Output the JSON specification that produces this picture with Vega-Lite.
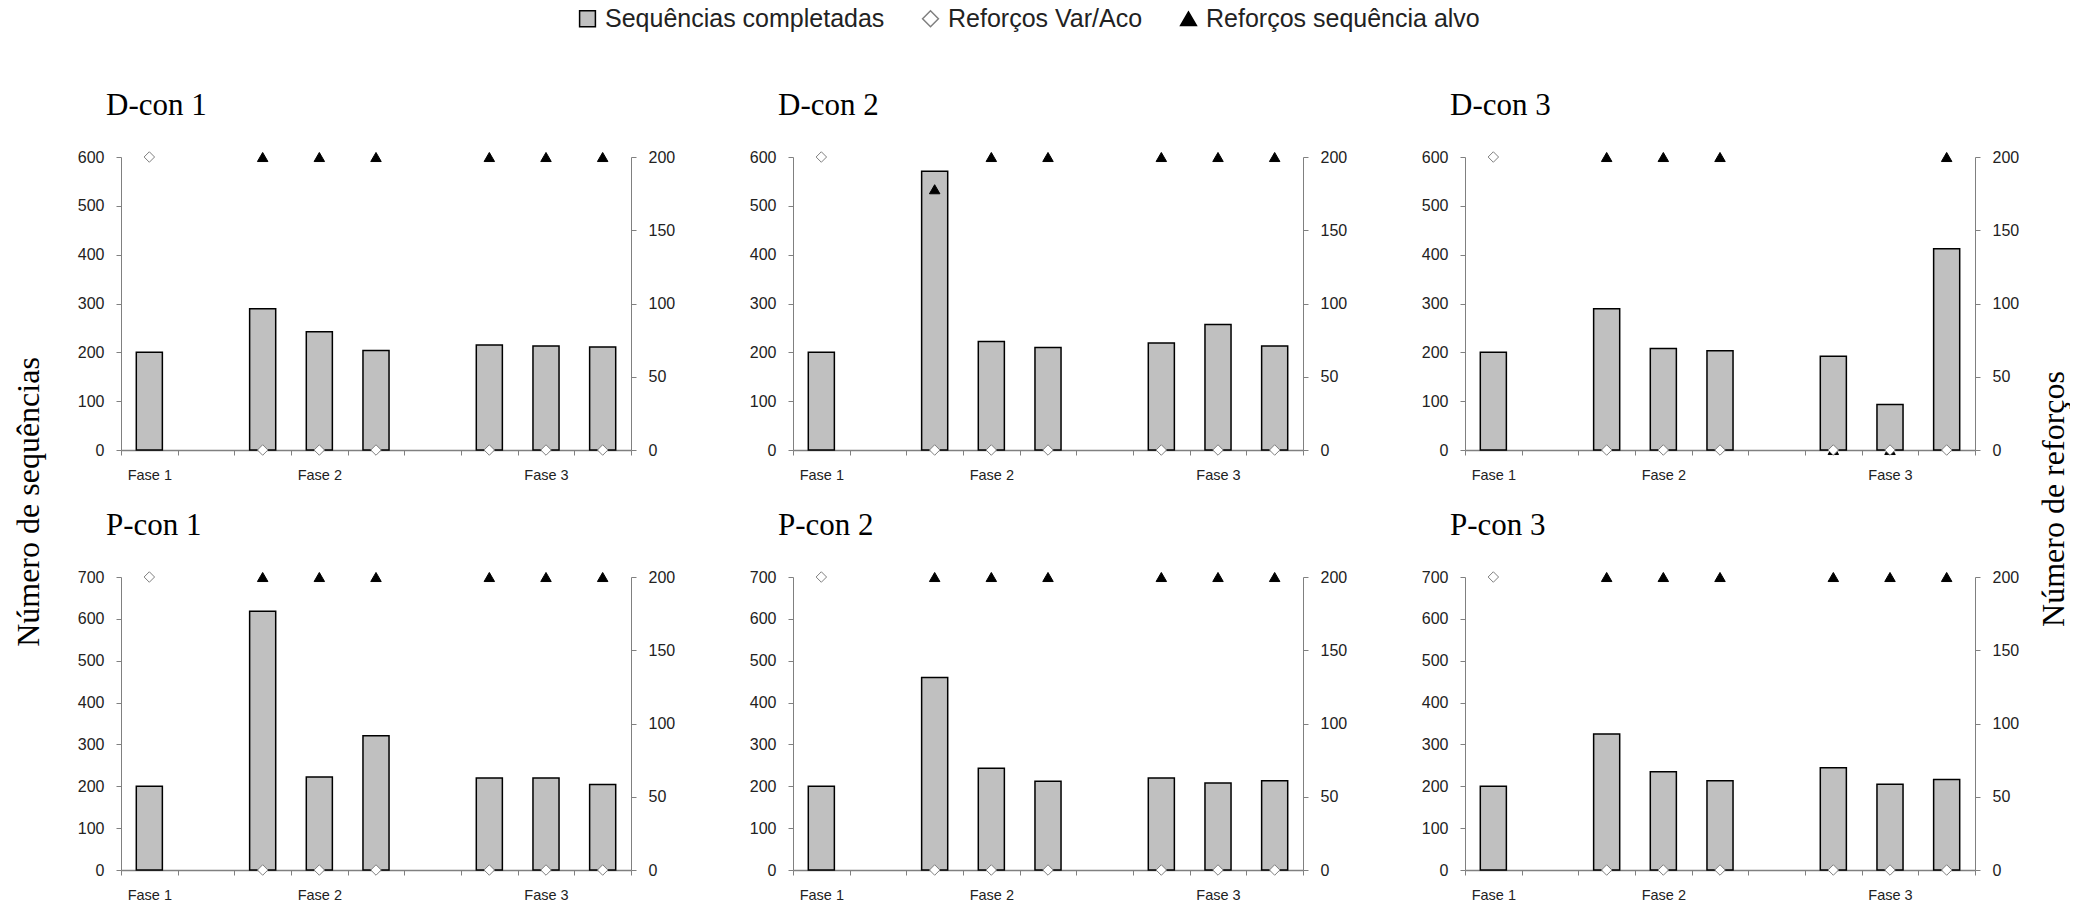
{
  "$schema": "https://vega.github.io/schema/vega-lite/v6.json",
  "padding": {"top": 6, "left": 0, "right": 0, "bottom": 0},
  "background": "white",
  "config": {
    "view": {"stroke": null},
    "title": {"anchor": "start", "frame": "group", "font": "Liberation Serif", "fontSize": 31, "fontWeight": "normal", "color": "#000000", "dx": -15, "offset": 27, "baseline": "alphabetic"},
    "axis": {"labelFont": "Liberation Sans", "labelFontSize": 16, "labelColor": "#222222", "domainColor": "#808080", "tickColor": "#808080", "grid": false}
  },
  "datasets": {
    "d": [
      {"panel": "D-con 1", "series": "Sequências completadas", "slot": 1, "value": 200},
      {"panel": "D-con 1", "series": "Sequências completadas", "slot": 3, "value": 289},
      {"panel": "D-con 1", "series": "Sequências completadas", "slot": 4, "value": 242},
      {"panel": "D-con 1", "series": "Sequências completadas", "slot": 5, "value": 204},
      {"panel": "D-con 1", "series": "Sequências completadas", "slot": 7, "value": 215},
      {"panel": "D-con 1", "series": "Sequências completadas", "slot": 8, "value": 213},
      {"panel": "D-con 1", "series": "Sequências completadas", "slot": 9, "value": 211},
      {"panel": "D-con 1", "series": "Reforços sequência alvo", "slot": 3, "value": 200},
      {"panel": "D-con 1", "series": "Reforços sequência alvo", "slot": 4, "value": 200},
      {"panel": "D-con 1", "series": "Reforços sequência alvo", "slot": 5, "value": 200},
      {"panel": "D-con 1", "series": "Reforços sequência alvo", "slot": 7, "value": 200},
      {"panel": "D-con 1", "series": "Reforços sequência alvo", "slot": 8, "value": 200},
      {"panel": "D-con 1", "series": "Reforços sequência alvo", "slot": 9, "value": 200},
      {"panel": "D-con 1", "series": "Reforços Var/Aco", "slot": 1, "value": 200},
      {"panel": "D-con 1", "series": "Reforços Var/Aco", "slot": 3, "value": 0},
      {"panel": "D-con 1", "series": "Reforços Var/Aco", "slot": 4, "value": 0},
      {"panel": "D-con 1", "series": "Reforços Var/Aco", "slot": 5, "value": 0},
      {"panel": "D-con 1", "series": "Reforços Var/Aco", "slot": 7, "value": 0},
      {"panel": "D-con 1", "series": "Reforços Var/Aco", "slot": 8, "value": 0},
      {"panel": "D-con 1", "series": "Reforços Var/Aco", "slot": 9, "value": 0},

      {"panel": "D-con 2", "series": "Sequências completadas", "slot": 1, "value": 200},
      {"panel": "D-con 2", "series": "Sequências completadas", "slot": 3, "value": 571},
      {"panel": "D-con 2", "series": "Sequências completadas", "slot": 4, "value": 222},
      {"panel": "D-con 2", "series": "Sequências completadas", "slot": 5, "value": 210},
      {"panel": "D-con 2", "series": "Sequências completadas", "slot": 7, "value": 219},
      {"panel": "D-con 2", "series": "Sequências completadas", "slot": 8, "value": 257},
      {"panel": "D-con 2", "series": "Sequências completadas", "slot": 9, "value": 213},
      {"panel": "D-con 2", "series": "Reforços sequência alvo", "slot": 3, "value": 178},
      {"panel": "D-con 2", "series": "Reforços sequência alvo", "slot": 4, "value": 200},
      {"panel": "D-con 2", "series": "Reforços sequência alvo", "slot": 5, "value": 200},
      {"panel": "D-con 2", "series": "Reforços sequência alvo", "slot": 7, "value": 200},
      {"panel": "D-con 2", "series": "Reforços sequência alvo", "slot": 8, "value": 200},
      {"panel": "D-con 2", "series": "Reforços sequência alvo", "slot": 9, "value": 200},
      {"panel": "D-con 2", "series": "Reforços Var/Aco", "slot": 1, "value": 200},
      {"panel": "D-con 2", "series": "Reforços Var/Aco", "slot": 3, "value": 0},
      {"panel": "D-con 2", "series": "Reforços Var/Aco", "slot": 4, "value": 0},
      {"panel": "D-con 2", "series": "Reforços Var/Aco", "slot": 5, "value": 0},
      {"panel": "D-con 2", "series": "Reforços Var/Aco", "slot": 7, "value": 0},
      {"panel": "D-con 2", "series": "Reforços Var/Aco", "slot": 8, "value": 0},
      {"panel": "D-con 2", "series": "Reforços Var/Aco", "slot": 9, "value": 0},

      {"panel": "D-con 3", "series": "Sequências completadas", "slot": 1, "value": 200},
      {"panel": "D-con 3", "series": "Sequências completadas", "slot": 3, "value": 289},
      {"panel": "D-con 3", "series": "Sequências completadas", "slot": 4, "value": 208},
      {"panel": "D-con 3", "series": "Sequências completadas", "slot": 5, "value": 203},
      {"panel": "D-con 3", "series": "Sequências completadas", "slot": 7, "value": 192},
      {"panel": "D-con 3", "series": "Sequências completadas", "slot": 8, "value": 93},
      {"panel": "D-con 3", "series": "Sequências completadas", "slot": 9, "value": 412},
      {"panel": "D-con 3", "series": "Reforços sequência alvo", "slot": 3, "value": 200},
      {"panel": "D-con 3", "series": "Reforços sequência alvo", "slot": 4, "value": 200},
      {"panel": "D-con 3", "series": "Reforços sequência alvo", "slot": 5, "value": 200},
      {"panel": "D-con 3", "series": "Reforços sequência alvo", "slot": 7, "value": 0},
      {"panel": "D-con 3", "series": "Reforços sequência alvo", "slot": 8, "value": 0},
      {"panel": "D-con 3", "series": "Reforços sequência alvo", "slot": 9, "value": 200},
      {"panel": "D-con 3", "series": "Reforços Var/Aco", "slot": 1, "value": 200},
      {"panel": "D-con 3", "series": "Reforços Var/Aco", "slot": 3, "value": 0},
      {"panel": "D-con 3", "series": "Reforços Var/Aco", "slot": 4, "value": 0},
      {"panel": "D-con 3", "series": "Reforços Var/Aco", "slot": 5, "value": 0},
      {"panel": "D-con 3", "series": "Reforços Var/Aco", "slot": 7, "value": 0},
      {"panel": "D-con 3", "series": "Reforços Var/Aco", "slot": 8, "value": 0},
      {"panel": "D-con 3", "series": "Reforços Var/Aco", "slot": 9, "value": 0},

      {"panel": "P-con 1", "series": "Sequências completadas", "slot": 1, "value": 200},
      {"panel": "P-con 1", "series": "Sequências completadas", "slot": 3, "value": 618},
      {"panel": "P-con 1", "series": "Sequências completadas", "slot": 4, "value": 222},
      {"panel": "P-con 1", "series": "Sequências completadas", "slot": 5, "value": 321},
      {"panel": "P-con 1", "series": "Sequências completadas", "slot": 7, "value": 220},
      {"panel": "P-con 1", "series": "Sequências completadas", "slot": 8, "value": 220},
      {"panel": "P-con 1", "series": "Sequências completadas", "slot": 9, "value": 204},
      {"panel": "P-con 1", "series": "Reforços sequência alvo", "slot": 3, "value": 200},
      {"panel": "P-con 1", "series": "Reforços sequência alvo", "slot": 4, "value": 200},
      {"panel": "P-con 1", "series": "Reforços sequência alvo", "slot": 5, "value": 200},
      {"panel": "P-con 1", "series": "Reforços sequência alvo", "slot": 7, "value": 200},
      {"panel": "P-con 1", "series": "Reforços sequência alvo", "slot": 8, "value": 200},
      {"panel": "P-con 1", "series": "Reforços sequência alvo", "slot": 9, "value": 200},
      {"panel": "P-con 1", "series": "Reforços Var/Aco", "slot": 1, "value": 200},
      {"panel": "P-con 1", "series": "Reforços Var/Aco", "slot": 3, "value": 0},
      {"panel": "P-con 1", "series": "Reforços Var/Aco", "slot": 4, "value": 0},
      {"panel": "P-con 1", "series": "Reforços Var/Aco", "slot": 5, "value": 0},
      {"panel": "P-con 1", "series": "Reforços Var/Aco", "slot": 7, "value": 0},
      {"panel": "P-con 1", "series": "Reforços Var/Aco", "slot": 8, "value": 0},
      {"panel": "P-con 1", "series": "Reforços Var/Aco", "slot": 9, "value": 0},

      {"panel": "P-con 2", "series": "Sequências completadas", "slot": 1, "value": 200},
      {"panel": "P-con 2", "series": "Sequências completadas", "slot": 3, "value": 460},
      {"panel": "P-con 2", "series": "Sequências completadas", "slot": 4, "value": 243},
      {"panel": "P-con 2", "series": "Sequências completadas", "slot": 5, "value": 212},
      {"panel": "P-con 2", "series": "Sequências completadas", "slot": 7, "value": 220},
      {"panel": "P-con 2", "series": "Sequências completadas", "slot": 8, "value": 208},
      {"panel": "P-con 2", "series": "Sequências completadas", "slot": 9, "value": 213},
      {"panel": "P-con 2", "series": "Reforços sequência alvo", "slot": 3, "value": 200},
      {"panel": "P-con 2", "series": "Reforços sequência alvo", "slot": 4, "value": 200},
      {"panel": "P-con 2", "series": "Reforços sequência alvo", "slot": 5, "value": 200},
      {"panel": "P-con 2", "series": "Reforços sequência alvo", "slot": 7, "value": 200},
      {"panel": "P-con 2", "series": "Reforços sequência alvo", "slot": 8, "value": 200},
      {"panel": "P-con 2", "series": "Reforços sequência alvo", "slot": 9, "value": 200},
      {"panel": "P-con 2", "series": "Reforços Var/Aco", "slot": 1, "value": 200},
      {"panel": "P-con 2", "series": "Reforços Var/Aco", "slot": 3, "value": 0},
      {"panel": "P-con 2", "series": "Reforços Var/Aco", "slot": 4, "value": 0},
      {"panel": "P-con 2", "series": "Reforços Var/Aco", "slot": 5, "value": 0},
      {"panel": "P-con 2", "series": "Reforços Var/Aco", "slot": 7, "value": 0},
      {"panel": "P-con 2", "series": "Reforços Var/Aco", "slot": 8, "value": 0},
      {"panel": "P-con 2", "series": "Reforços Var/Aco", "slot": 9, "value": 0},

      {"panel": "P-con 3", "series": "Sequências completadas", "slot": 1, "value": 200},
      {"panel": "P-con 3", "series": "Sequências completadas", "slot": 3, "value": 325},
      {"panel": "P-con 3", "series": "Sequências completadas", "slot": 4, "value": 235},
      {"panel": "P-con 3", "series": "Sequências completadas", "slot": 5, "value": 213},
      {"panel": "P-con 3", "series": "Sequências completadas", "slot": 7, "value": 244},
      {"panel": "P-con 3", "series": "Sequências completadas", "slot": 8, "value": 205},
      {"panel": "P-con 3", "series": "Sequências completadas", "slot": 9, "value": 216},
      {"panel": "P-con 3", "series": "Reforços sequência alvo", "slot": 3, "value": 200},
      {"panel": "P-con 3", "series": "Reforços sequência alvo", "slot": 4, "value": 200},
      {"panel": "P-con 3", "series": "Reforços sequência alvo", "slot": 5, "value": 200},
      {"panel": "P-con 3", "series": "Reforços sequência alvo", "slot": 7, "value": 200},
      {"panel": "P-con 3", "series": "Reforços sequência alvo", "slot": 8, "value": 200},
      {"panel": "P-con 3", "series": "Reforços sequência alvo", "slot": 9, "value": 200},
      {"panel": "P-con 3", "series": "Reforços Var/Aco", "slot": 1, "value": 200},
      {"panel": "P-con 3", "series": "Reforços Var/Aco", "slot": 3, "value": 0},
      {"panel": "P-con 3", "series": "Reforços Var/Aco", "slot": 4, "value": 0},
      {"panel": "P-con 3", "series": "Reforços Var/Aco", "slot": 5, "value": 0},
      {"panel": "P-con 3", "series": "Reforços Var/Aco", "slot": 7, "value": 0},
      {"panel": "P-con 3", "series": "Reforços Var/Aco", "slot": 8, "value": 0},
      {"panel": "P-con 3", "series": "Reforços Var/Aco", "slot": 9, "value": 0}
    ]
  },
  "spacing": 19,
  "hconcat": [
    {
      "width": 58, "height": 682,
      "data": {"values": [{"t": "Número de sequências"}]},
      "mark": {"type": "text", "angle": 270, "font": "Liberation Serif", "fontSize": 32, "align": "center", "baseline": "middle", "color": "#000000", "dx": -4},
      "encoding": {"text": {"field": "t", "type": "nominal"}}
    },
    {
      "spacing": 28,
      "vconcat": [
        {
          "spacing": 74,
          "hconcat": [
            {
              "width": 510, "height": 293,
              "title": {"text": "D-con 1"},
              "data": {"name": "d"},
              "transform": [{"filter": "datum.panel == 'D-con 1'"}],
              "layer": [
                {
                  "transform": [{"filter": "datum.series == 'Sequências completadas'"}],
                  "mark": {"type": "bar", "width": {"band": 0.46}, "strokeWidth": 1.5},
                  "encoding": {
                    "x": {"field": "slot", "type": "ordinal", "scale": {"domain": [1,2,3,4,5,6,7,8,9], "paddingInner": 0, "paddingOuter": 0}, "axis": {"title": null, "tickBand": "extent", "labelAngle": 0, "labelFontSize": 14.5, "labelExpr": "datum.value == 1 ? 'Fase 1' : datum.value == 4 ? 'Fase 2' : datum.value == 8 ? 'Fase 3' : ''", "tickSize": 5, "labelPadding": 13, "domainWidth": 1.5}},
                    "y": {"field": "value", "type": "quantitative", "scale": {"domain": [0, 600], "nice": false}, "axis": {"title": null, "values": [0,100,200,300,400,500,600], "tickSize": 5, "labelPadding": 12}},
                    "fill": {"field": "series", "type": "nominal", "scale": {"domain": ["Sequências completadas", "Reforços Var/Aco", "Reforços sequência alvo"], "range": ["#C0C0C0", "#FFFFFF", "#000000"]}, "legend": {"title": null, "orient": "none", "legendX": 575, "legendY": -151, "direction": "horizontal", "labelFont": "Liberation Sans", "labelFontSize": 25, "labelLimit": 600, "labelColor": "#222222", "symbolSize": 250, "symbolStrokeWidth": 1.5, "columnPadding": 33, "labelOffset": 5}},
                    "stroke": {"field": "series", "type": "nominal", "scale": {"domain": ["Sequências completadas", "Reforços Var/Aco", "Reforços sequência alvo"], "range": ["#000000", "#7F7F7F", "#000000"]}, "legend": {"title": null, "orient": "none", "legendX": 575, "legendY": -151, "direction": "horizontal", "labelFont": "Liberation Sans", "labelFontSize": 25, "labelLimit": 600, "labelColor": "#222222", "symbolSize": 250, "symbolStrokeWidth": 1.5, "columnPadding": 33, "labelOffset": 5}}
                  }
                },
                {
                  "transform": [{"filter": "datum.series != 'Sequências completadas'"}],
                  "mark": {"type": "point", "filled": true, "opacity": 1, "strokeWidth": 1, "size": 110},
                  "encoding": {
                    "x": {"field": "slot", "type": "ordinal", "scale": {"domain": [1,2,3,4,5,6,7,8,9], "paddingInner": 0, "paddingOuter": 0}, "axis": {"title": null, "tickBand": "extent", "labelAngle": 0, "labelFontSize": 14.5, "labelExpr": "datum.value == 1 ? 'Fase 1' : datum.value == 4 ? 'Fase 2' : datum.value == 8 ? 'Fase 3' : ''", "tickSize": 5, "labelPadding": 13, "domainWidth": 1.5}},
                    "y": {"field": "value", "type": "quantitative", "scale": {"domain": [0, 200], "nice": false}, "axis": {"title": null, "orient": "right", "values": [0,50,100,150,200], "tickSize": 5, "labelPadding": 12}},
                    "fill": {"field": "series", "type": "nominal", "scale": {"domain": ["Sequências completadas", "Reforços Var/Aco", "Reforços sequência alvo"], "range": ["#C0C0C0", "#FFFFFF", "#000000"]}},
                    "stroke": {"field": "series", "type": "nominal", "scale": {"domain": ["Sequências completadas", "Reforços Var/Aco", "Reforços sequência alvo"], "range": ["#000000", "#7F7F7F", "#000000"]}},
                    "shape": {"field": "series", "type": "nominal", "scale": {"domain": ["Sequências completadas", "Reforços Var/Aco", "Reforços sequência alvo"], "range": ["square", "diamond", "triangle-up"]}, "legend": {"title": null, "orient": "none", "legendX": 575, "legendY": -151, "direction": "horizontal", "labelFont": "Liberation Sans", "labelFontSize": 25, "labelLimit": 600, "labelColor": "#222222", "symbolSize": 250, "symbolStrokeWidth": 1.5, "columnPadding": 33, "labelOffset": 5}}
                  }
                }
              ],
              "resolve": {"scale": {"y": "independent"}}
            },
            {
              "width": 510, "height": 293,
              "title": {"text": "D-con 2"},
              "data": {"name": "d"},
              "transform": [{"filter": "datum.panel == 'D-con 2'"}],
              "layer": [
                {
                  "transform": [{"filter": "datum.series == 'Sequências completadas'"}],
                  "mark": {"type": "bar", "width": {"band": 0.46}, "strokeWidth": 1.5},
                  "encoding": {
                    "x": {"field": "slot", "type": "ordinal", "scale": {"domain": [1,2,3,4,5,6,7,8,9], "paddingInner": 0, "paddingOuter": 0}, "axis": {"title": null, "tickBand": "extent", "labelAngle": 0, "labelFontSize": 14.5, "labelExpr": "datum.value == 1 ? 'Fase 1' : datum.value == 4 ? 'Fase 2' : datum.value == 8 ? 'Fase 3' : ''", "tickSize": 5, "labelPadding": 13, "domainWidth": 1.5}},
                    "y": {"field": "value", "type": "quantitative", "scale": {"domain": [0, 600], "nice": false}, "axis": {"title": null, "values": [0,100,200,300,400,500,600], "tickSize": 5, "labelPadding": 12}},
                    "fill": {"field": "series", "type": "nominal", "scale": {"domain": ["Sequências completadas", "Reforços Var/Aco", "Reforços sequência alvo"], "range": ["#C0C0C0", "#FFFFFF", "#000000"]}},
                    "stroke": {"field": "series", "type": "nominal", "scale": {"domain": ["Sequências completadas", "Reforços Var/Aco", "Reforços sequência alvo"], "range": ["#000000", "#7F7F7F", "#000000"]}}
                  }
                },
                {
                  "transform": [{"filter": "datum.series != 'Sequências completadas'"}],
                  "mark": {"type": "point", "filled": true, "opacity": 1, "strokeWidth": 1, "size": 110},
                  "encoding": {
                    "x": {"field": "slot", "type": "ordinal", "scale": {"domain": [1,2,3,4,5,6,7,8,9], "paddingInner": 0, "paddingOuter": 0}, "axis": {"title": null, "tickBand": "extent", "labelAngle": 0, "labelFontSize": 14.5, "labelExpr": "datum.value == 1 ? 'Fase 1' : datum.value == 4 ? 'Fase 2' : datum.value == 8 ? 'Fase 3' : ''", "tickSize": 5, "labelPadding": 13, "domainWidth": 1.5}},
                    "y": {"field": "value", "type": "quantitative", "scale": {"domain": [0, 200], "nice": false}, "axis": {"title": null, "orient": "right", "values": [0,50,100,150,200], "tickSize": 5, "labelPadding": 12}},
                    "fill": {"field": "series", "type": "nominal", "scale": {"domain": ["Sequências completadas", "Reforços Var/Aco", "Reforços sequência alvo"], "range": ["#C0C0C0", "#FFFFFF", "#000000"]}},
                    "stroke": {"field": "series", "type": "nominal", "scale": {"domain": ["Sequências completadas", "Reforços Var/Aco", "Reforços sequência alvo"], "range": ["#000000", "#7F7F7F", "#000000"]}},
                    "shape": {"field": "series", "type": "nominal", "scale": {"domain": ["Sequências completadas", "Reforços Var/Aco", "Reforços sequência alvo"], "range": ["square", "diamond", "triangle-up"]}}
                  }
                }
              ],
              "resolve": {"scale": {"y": "independent"}}
            },
            {
              "width": 510, "height": 293,
              "title": {"text": "D-con 3"},
              "data": {"name": "d"},
              "transform": [{"filter": "datum.panel == 'D-con 3'"}],
              "layer": [
                {
                  "transform": [{"filter": "datum.series == 'Sequências completadas'"}],
                  "mark": {"type": "bar", "width": {"band": 0.46}, "strokeWidth": 1.5},
                  "encoding": {
                    "x": {"field": "slot", "type": "ordinal", "scale": {"domain": [1,2,3,4,5,6,7,8,9], "paddingInner": 0, "paddingOuter": 0}, "axis": {"title": null, "tickBand": "extent", "labelAngle": 0, "labelFontSize": 14.5, "labelExpr": "datum.value == 1 ? 'Fase 1' : datum.value == 4 ? 'Fase 2' : datum.value == 8 ? 'Fase 3' : ''", "tickSize": 5, "labelPadding": 13, "domainWidth": 1.5}},
                    "y": {"field": "value", "type": "quantitative", "scale": {"domain": [0, 600], "nice": false}, "axis": {"title": null, "values": [0,100,200,300,400,500,600], "tickSize": 5, "labelPadding": 12}},
                    "fill": {"field": "series", "type": "nominal", "scale": {"domain": ["Sequências completadas", "Reforços Var/Aco", "Reforços sequência alvo"], "range": ["#C0C0C0", "#FFFFFF", "#000000"]}},
                    "stroke": {"field": "series", "type": "nominal", "scale": {"domain": ["Sequências completadas", "Reforços Var/Aco", "Reforços sequência alvo"], "range": ["#000000", "#7F7F7F", "#000000"]}}
                  }
                },
                {
                  "transform": [{"filter": "datum.series != 'Sequências completadas'"}],
                  "mark": {"type": "point", "filled": true, "opacity": 1, "strokeWidth": 1, "size": 110},
                  "encoding": {
                    "x": {"field": "slot", "type": "ordinal", "scale": {"domain": [1,2,3,4,5,6,7,8,9], "paddingInner": 0, "paddingOuter": 0}, "axis": {"title": null, "tickBand": "extent", "labelAngle": 0, "labelFontSize": 14.5, "labelExpr": "datum.value == 1 ? 'Fase 1' : datum.value == 4 ? 'Fase 2' : datum.value == 8 ? 'Fase 3' : ''", "tickSize": 5, "labelPadding": 13, "domainWidth": 1.5}},
                    "y": {"field": "value", "type": "quantitative", "scale": {"domain": [0, 200], "nice": false}, "axis": {"title": null, "orient": "right", "values": [0,50,100,150,200], "tickSize": 5, "labelPadding": 12}},
                    "fill": {"field": "series", "type": "nominal", "scale": {"domain": ["Sequências completadas", "Reforços Var/Aco", "Reforços sequência alvo"], "range": ["#C0C0C0", "#FFFFFF", "#000000"]}},
                    "stroke": {"field": "series", "type": "nominal", "scale": {"domain": ["Sequências completadas", "Reforços Var/Aco", "Reforços sequência alvo"], "range": ["#000000", "#7F7F7F", "#000000"]}},
                    "shape": {"field": "series", "type": "nominal", "scale": {"domain": ["Sequências completadas", "Reforços Var/Aco", "Reforços sequência alvo"], "range": ["square", "diamond", "triangle-up"]}}
                  }
                }
              ],
              "resolve": {"scale": {"y": "independent"}}
            }
          ]
        },
        {
          "spacing": 74,
          "hconcat": [
            {
              "width": 510, "height": 293,
              "title": {"text": "P-con 1"},
              "data": {"name": "d"},
              "transform": [{"filter": "datum.panel == 'P-con 1'"}],
              "layer": [
                {
                  "transform": [{"filter": "datum.series == 'Sequências completadas'"}],
                  "mark": {"type": "bar", "width": {"band": 0.46}, "strokeWidth": 1.5},
                  "encoding": {
                    "x": {"field": "slot", "type": "ordinal", "scale": {"domain": [1,2,3,4,5,6,7,8,9], "paddingInner": 0, "paddingOuter": 0}, "axis": {"title": null, "tickBand": "extent", "labelAngle": 0, "labelFontSize": 14.5, "labelExpr": "datum.value == 1 ? 'Fase 1' : datum.value == 4 ? 'Fase 2' : datum.value == 8 ? 'Fase 3' : ''", "tickSize": 5, "labelPadding": 13, "domainWidth": 1.5}},
                    "y": {"field": "value", "type": "quantitative", "scale": {"domain": [0, 700], "nice": false}, "axis": {"title": null, "values": [0,100,200,300,400,500,600,700], "tickSize": 5, "labelPadding": 12}},
                    "fill": {"field": "series", "type": "nominal", "scale": {"domain": ["Sequências completadas", "Reforços Var/Aco", "Reforços sequência alvo"], "range": ["#C0C0C0", "#FFFFFF", "#000000"]}},
                    "stroke": {"field": "series", "type": "nominal", "scale": {"domain": ["Sequências completadas", "Reforços Var/Aco", "Reforços sequência alvo"], "range": ["#000000", "#7F7F7F", "#000000"]}}
                  }
                },
                {
                  "transform": [{"filter": "datum.series != 'Sequências completadas'"}],
                  "mark": {"type": "point", "filled": true, "opacity": 1, "strokeWidth": 1, "size": 110},
                  "encoding": {
                    "x": {"field": "slot", "type": "ordinal", "scale": {"domain": [1,2,3,4,5,6,7,8,9], "paddingInner": 0, "paddingOuter": 0}, "axis": {"title": null, "tickBand": "extent", "labelAngle": 0, "labelFontSize": 14.5, "labelExpr": "datum.value == 1 ? 'Fase 1' : datum.value == 4 ? 'Fase 2' : datum.value == 8 ? 'Fase 3' : ''", "tickSize": 5, "labelPadding": 13, "domainWidth": 1.5}},
                    "y": {"field": "value", "type": "quantitative", "scale": {"domain": [0, 200], "nice": false}, "axis": {"title": null, "orient": "right", "values": [0,50,100,150,200], "tickSize": 5, "labelPadding": 12}},
                    "fill": {"field": "series", "type": "nominal", "scale": {"domain": ["Sequências completadas", "Reforços Var/Aco", "Reforços sequência alvo"], "range": ["#C0C0C0", "#FFFFFF", "#000000"]}},
                    "stroke": {"field": "series", "type": "nominal", "scale": {"domain": ["Sequências completadas", "Reforços Var/Aco", "Reforços sequência alvo"], "range": ["#000000", "#7F7F7F", "#000000"]}},
                    "shape": {"field": "series", "type": "nominal", "scale": {"domain": ["Sequências completadas", "Reforços Var/Aco", "Reforços sequência alvo"], "range": ["square", "diamond", "triangle-up"]}}
                  }
                }
              ],
              "resolve": {"scale": {"y": "independent"}}
            },
            {
              "width": 510, "height": 293,
              "title": {"text": "P-con 2"},
              "data": {"name": "d"},
              "transform": [{"filter": "datum.panel == 'P-con 2'"}],
              "layer": [
                {
                  "transform": [{"filter": "datum.series == 'Sequências completadas'"}],
                  "mark": {"type": "bar", "width": {"band": 0.46}, "strokeWidth": 1.5},
                  "encoding": {
                    "x": {"field": "slot", "type": "ordinal", "scale": {"domain": [1,2,3,4,5,6,7,8,9], "paddingInner": 0, "paddingOuter": 0}, "axis": {"title": null, "tickBand": "extent", "labelAngle": 0, "labelFontSize": 14.5, "labelExpr": "datum.value == 1 ? 'Fase 1' : datum.value == 4 ? 'Fase 2' : datum.value == 8 ? 'Fase 3' : ''", "tickSize": 5, "labelPadding": 13, "domainWidth": 1.5}},
                    "y": {"field": "value", "type": "quantitative", "scale": {"domain": [0, 700], "nice": false}, "axis": {"title": null, "values": [0,100,200,300,400,500,600,700], "tickSize": 5, "labelPadding": 12}},
                    "fill": {"field": "series", "type": "nominal", "scale": {"domain": ["Sequências completadas", "Reforços Var/Aco", "Reforços sequência alvo"], "range": ["#C0C0C0", "#FFFFFF", "#000000"]}},
                    "stroke": {"field": "series", "type": "nominal", "scale": {"domain": ["Sequências completadas", "Reforços Var/Aco", "Reforços sequência alvo"], "range": ["#000000", "#7F7F7F", "#000000"]}}
                  }
                },
                {
                  "transform": [{"filter": "datum.series != 'Sequências completadas'"}],
                  "mark": {"type": "point", "filled": true, "opacity": 1, "strokeWidth": 1, "size": 110},
                  "encoding": {
                    "x": {"field": "slot", "type": "ordinal", "scale": {"domain": [1,2,3,4,5,6,7,8,9], "paddingInner": 0, "paddingOuter": 0}, "axis": {"title": null, "tickBand": "extent", "labelAngle": 0, "labelFontSize": 14.5, "labelExpr": "datum.value == 1 ? 'Fase 1' : datum.value == 4 ? 'Fase 2' : datum.value == 8 ? 'Fase 3' : ''", "tickSize": 5, "labelPadding": 13, "domainWidth": 1.5}},
                    "y": {"field": "value", "type": "quantitative", "scale": {"domain": [0, 200], "nice": false}, "axis": {"title": null, "orient": "right", "values": [0,50,100,150,200], "tickSize": 5, "labelPadding": 12}},
                    "fill": {"field": "series", "type": "nominal", "scale": {"domain": ["Sequências completadas", "Reforços Var/Aco", "Reforços sequência alvo"], "range": ["#C0C0C0", "#FFFFFF", "#000000"]}},
                    "stroke": {"field": "series", "type": "nominal", "scale": {"domain": ["Sequências completadas", "Reforços Var/Aco", "Reforços sequência alvo"], "range": ["#000000", "#7F7F7F", "#000000"]}},
                    "shape": {"field": "series", "type": "nominal", "scale": {"domain": ["Sequências completadas", "Reforços Var/Aco", "Reforços sequência alvo"], "range": ["square", "diamond", "triangle-up"]}}
                  }
                }
              ],
              "resolve": {"scale": {"y": "independent"}}
            },
            {
              "width": 510, "height": 293,
              "title": {"text": "P-con 3"},
              "data": {"name": "d"},
              "transform": [{"filter": "datum.panel == 'P-con 3'"}],
              "layer": [
                {
                  "transform": [{"filter": "datum.series == 'Sequências completadas'"}],
                  "mark": {"type": "bar", "width": {"band": 0.46}, "strokeWidth": 1.5},
                  "encoding": {
                    "x": {"field": "slot", "type": "ordinal", "scale": {"domain": [1,2,3,4,5,6,7,8,9], "paddingInner": 0, "paddingOuter": 0}, "axis": {"title": null, "tickBand": "extent", "labelAngle": 0, "labelFontSize": 14.5, "labelExpr": "datum.value == 1 ? 'Fase 1' : datum.value == 4 ? 'Fase 2' : datum.value == 8 ? 'Fase 3' : ''", "tickSize": 5, "labelPadding": 13, "domainWidth": 1.5}},
                    "y": {"field": "value", "type": "quantitative", "scale": {"domain": [0, 700], "nice": false}, "axis": {"title": null, "values": [0,100,200,300,400,500,600,700], "tickSize": 5, "labelPadding": 12}},
                    "fill": {"field": "series", "type": "nominal", "scale": {"domain": ["Sequências completadas", "Reforços Var/Aco", "Reforços sequência alvo"], "range": ["#C0C0C0", "#FFFFFF", "#000000"]}},
                    "stroke": {"field": "series", "type": "nominal", "scale": {"domain": ["Sequências completadas", "Reforços Var/Aco", "Reforços sequência alvo"], "range": ["#000000", "#7F7F7F", "#000000"]}}
                  }
                },
                {
                  "transform": [{"filter": "datum.series != 'Sequências completadas'"}],
                  "mark": {"type": "point", "filled": true, "opacity": 1, "strokeWidth": 1, "size": 110},
                  "encoding": {
                    "x": {"field": "slot", "type": "ordinal", "scale": {"domain": [1,2,3,4,5,6,7,8,9], "paddingInner": 0, "paddingOuter": 0}, "axis": {"title": null, "tickBand": "extent", "labelAngle": 0, "labelFontSize": 14.5, "labelExpr": "datum.value == 1 ? 'Fase 1' : datum.value == 4 ? 'Fase 2' : datum.value == 8 ? 'Fase 3' : ''", "tickSize": 5, "labelPadding": 13, "domainWidth": 1.5}},
                    "y": {"field": "value", "type": "quantitative", "scale": {"domain": [0, 200], "nice": false}, "axis": {"title": null, "orient": "right", "values": [0,50,100,150,200], "tickSize": 5, "labelPadding": 12}},
                    "fill": {"field": "series", "type": "nominal", "scale": {"domain": ["Sequências completadas", "Reforços Var/Aco", "Reforços sequência alvo"], "range": ["#C0C0C0", "#FFFFFF", "#000000"]}},
                    "stroke": {"field": "series", "type": "nominal", "scale": {"domain": ["Sequências completadas", "Reforços Var/Aco", "Reforços sequência alvo"], "range": ["#000000", "#7F7F7F", "#000000"]}},
                    "shape": {"field": "series", "type": "nominal", "scale": {"domain": ["Sequências completadas", "Reforços Var/Aco", "Reforços sequência alvo"], "range": ["square", "diamond", "triangle-up"]}}
                  }
                }
              ],
              "resolve": {"scale": {"y": "independent"}}
            }
          ]
        }
      ]
    },
    {
      "width": 30, "height": 664,
      "data": {"values": [{"t": "Número de reforços"}]},
      "mark": {"type": "text", "angle": 270, "font": "Liberation Serif", "fontSize": 32, "align": "center", "baseline": "middle", "color": "#000000", "dx": -10},
      "encoding": {"text": {"field": "t", "type": "nominal"}}
    }
  ]
}
